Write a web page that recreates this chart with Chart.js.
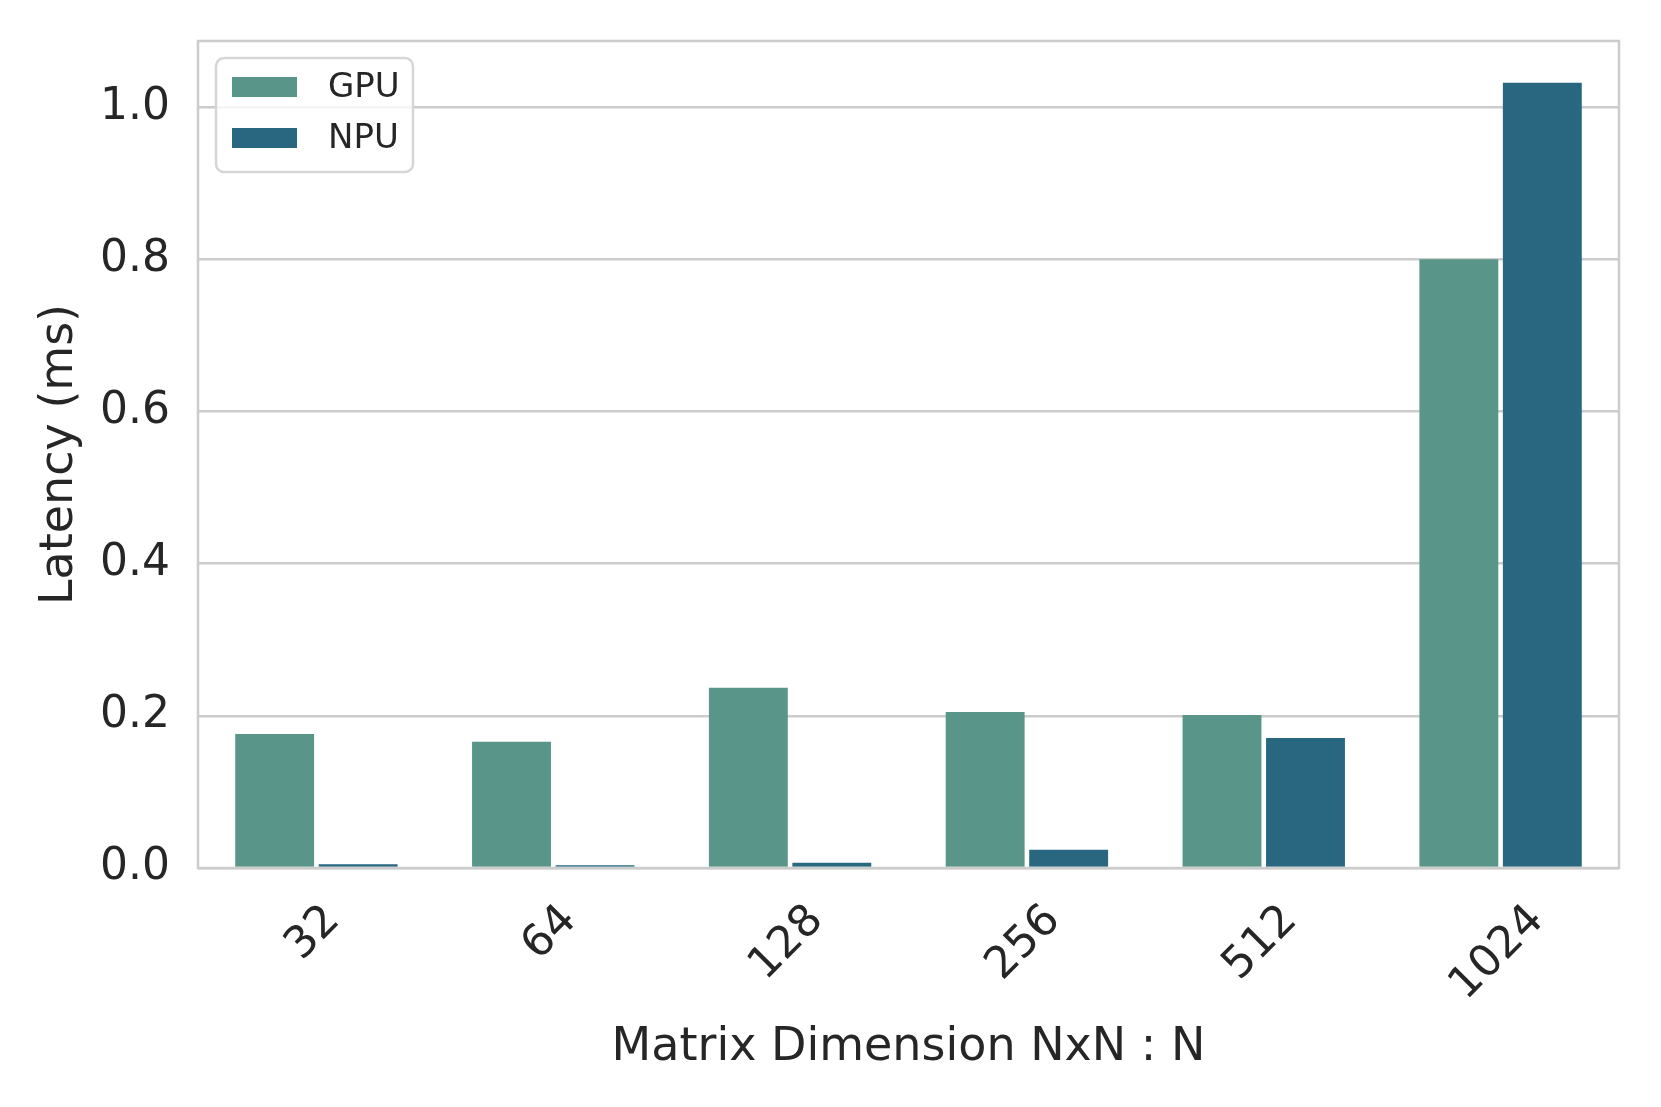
<!DOCTYPE html>
<html>
<head>
<meta charset="utf-8">
<script src="https://cdn.jsdelivr.net/npm/chart.js@4.4.1/dist/chart.umd.min.js"></script>
<style>
  html, body { margin: 0; padding: 0; background: #fff; }
  canvas { display: block; }
</style>
</head>
<body>
<canvas id="latencyChart" width="1661" height="1107"></canvas>
<script>
// data
const sizes = ["32", "64", "128", "256", "512", "1024"];
const gpuLatency = [0.176, 0.166, 0.237, 0.205, 0.201, 0.800];
const npuLatency = [0.005, 0.0035, 0.007, 0.024, 0.171, 1.032];
const yTicks = [0.0, 0.2, 0.4, 0.6, 0.8, 1.0];

const gpuColor = "#599689";
const npuColor = "#296780";
const gridColor = "#cccccc";
const textColor = "#262626";
const fontFamily = "'DejaVu Sans', sans-serif";

// frame around the plot area (seaborn whitegrid style)
const framePlugin = {
  id: "frame",
  afterDatasetsDraw(chart) {
    const { ctx, chartArea: a } = chart;
    ctx.save();
    ctx.strokeStyle = gridColor;
    ctx.lineWidth = 2.5;
    ctx.strokeRect(a.left, a.top, a.right - a.left, a.bottom - a.top);
    ctx.restore();
  }
};

// rotated x labels, centred under each tick like matplotlib
const xLabelPlugin = {
  id: "xLabels",
  afterDraw(chart) {
    const { ctx, chartArea: a } = chart;
    const xScale = chart.scales.x;
    const fs = 44;
    ctx.save();
    ctx.font = `${fs}px ${fontFamily}`;
    ctx.fillStyle = textColor;
    ctx.textAlign = "center";
    ctx.textBaseline = "middle";
    chart.data.labels.forEach((lab, i) => {
      const x = xScale.getPixelForTick(i);
      const w = ctx.measureText(lab).width;
      const h = fs * 0.75;
      const cy = a.bottom + 34 + (w + h) * Math.SQRT1_2 / 2;
      ctx.save();
      ctx.translate(x - 3, cy);
      ctx.rotate(-Math.PI / 4);
      ctx.fillText(lab, 0, 0);
      ctx.restore();
    });
    ctx.restore();
  }
};

// legend drawn inside the plot, upper left
const legendPlugin = {
  id: "innerLegend",
  afterDraw(chart) {
    const { ctx } = chart;
    ctx.save();
    const bx = 216, by = 58, bw = 197, bh = 114, r = 8;
    ctx.beginPath();
    ctx.roundRect(bx, by, bw, bh, r);
    ctx.fillStyle = "rgba(255,255,255,0.8)";
    ctx.fill();
    ctx.strokeStyle = "#d6d6d6";
    ctx.lineWidth = 2.5;
    ctx.stroke();
    ctx.font = `34px ${fontFamily}`;
    ctx.textBaseline = "middle";
    ctx.textAlign = "left";
    chart.data.datasets.forEach((ds, i) => {
      const y = 77 + i * 51;
      ctx.fillStyle = ds.backgroundColor;
      ctx.fillRect(232, y, 65, 20);
      ctx.fillStyle = textColor;
      ctx.fillText(ds.label, 328, y + 11);
    });
    ctx.restore();
  }
};

const ctx = document.getElementById("latencyChart").getContext("2d");
new Chart(ctx, {
  type: "bar",
  data: {
    labels: sizes,
    datasets: [
      { label: "GPU", data: gpuLatency, backgroundColor: gpuColor },
      { label: "NPU", data: npuLatency, backgroundColor: npuColor }
    ]
  },
  options: {
    responsive: false,
    animation: false,
    devicePixelRatio: 1,
    layout: { padding: { top: 41, right: 42, bottom: 0, left: 0 } },
    datasets: {
      bar: { categoryPercentage: 0.705, barPercentage: 0.945, borderWidth: 0 }
    },
    plugins: {
      legend: { display: false },
      tooltip: { enabled: false }
    },
    scales: {
      x: {
        grid: { display: false, drawTicks: false },
        border: { display: false },
        ticks: { display: false },
        title: {
          display: true,
          text: "Matrix Dimension NxN : N",
          color: textColor,
          font: { family: fontFamily, size: 46 },
          padding: { top: 0, bottom: 31 }
        },
        afterFit(scale) {
          scale.height = 1107 - 868;
          scale.paddingLeft = 0;
          scale.paddingRight = 0;
        }
      },
      y: {
        min: 0,
        max: 1.087,
        grid: { color: gridColor, lineWidth: 2.5, drawTicks: false },
        border: { display: false },
        ticks: {
          color: textColor,
          padding: 28,
          font: { family: fontFamily, size: 44 },
          callback: (v) => v.toFixed(1)
        },
        afterBuildTicks(scale) {
          scale.ticks = yTicks.map(v => ({ value: v }));
        },
        title: {
          display: true,
          text: "Latency (ms)",
          color: textColor,
          font: { family: fontFamily, size: 46 },
          padding: { top: 32, bottom: 0 }
        },
        afterFit(scale) {
          scale.width = 198;
          scale.paddingTop = 0;
          scale.paddingBottom = 0;
        }
      }
    }
  },
  plugins: [framePlugin, xLabelPlugin, legendPlugin]
});
</script>
</body>
</html>
